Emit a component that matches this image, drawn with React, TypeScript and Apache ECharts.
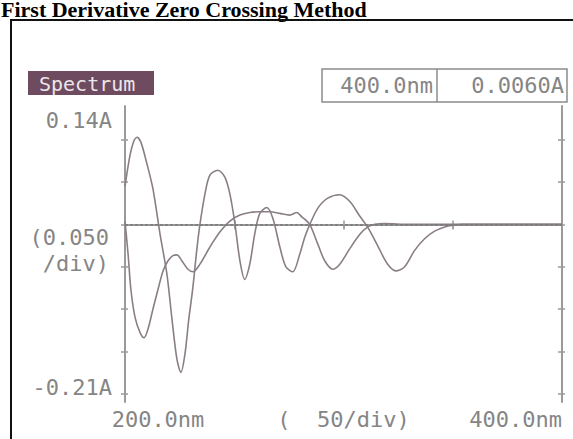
import React, { useEffect, useRef } from "react";
import * as echarts from "echarts";

// ---- data ----
const TITLE = "First Derivative Zero Crossing Method";
const MODE_LABEL = "Spectrum";
const READOUT = ["400.0nm", "0.0060A"];

const X_MIN = 200;
const X_MAX = 400;
const X_TICKS = [250, 300, 350];
const X_LABEL_VALUES = [200, 300, 400];
const X_LABELS = ["200.0nm", "(  50/div)", "400.0nm"];

const Y_MIN = -0.21;
const Y_MAX = 0.14;
const Y_TICKS = [-0.2, -0.15, -0.1, -0.05, 0, 0.05, 0.1];
const Y_END_VALUES = [-0.21, 0.14];
const Y_END_LABELS = ["-0.21A", "0.14A"];
const Y_MID_VALUES = [0];
const Y_MID_LABEL = "(0.050\n/div)";

// curve A: derivative with large oscillations
const nmA = [
  200.0, 202.3, 204.1, 205.5, 207.3, 210.0, 212.8, 216.0, 219.2, 221.5, 223.8,
  225.6, 227.4, 229.2, 231.0, 232.9, 234.3, 236.6, 238.8, 242.5, 245.7, 248.0,
  250.3, 252.6, 254.8, 257.1, 259.4, 261.7, 264.9, 267.7, 270.9, 273.6, 276.8,
  280.0, 282.3, 284.6, 288.2, 292.8, 298.3, 302.9, 307.4, 311.0, 315.6, 320.2,
  324.3, 328.0, 332.5, 337.1, 341.7, 346.3, 350.0, 355.0, 370.0, 400.0,
];
const absA = [
  0.045, 0.082, 0.099, 0.103, 0.097, 0.072, 0.042, -0.011, -0.059, -0.112,
  -0.16, -0.175, -0.154, -0.112, -0.076, -0.029, 0.0, 0.036, 0.058, 0.064,
  0.056, 0.036, 0.001, -0.043, -0.065, -0.047, -0.011, 0.013, 0.02, 0.007,
  -0.027, -0.05, -0.056, -0.035, -0.015, 0.0, 0.019, 0.031, 0.035, 0.027, 0.01,
  -0.003, -0.025, -0.047, -0.055, -0.05, -0.031, -0.017, -0.008, -0.003,
  -0.001, 0.0, 0.0, 0.0,
];

// curve B: derivative with plateau
const nmB = [
  200.0, 201.4, 202.7, 204.6, 206.9, 208.7, 210.5, 212.8, 215.1, 217.4, 219.7,
  221.9, 223.8, 226.0, 228.8, 231.1, 234.3, 238.8, 243.4, 248.0, 252.6, 257.1,
  261.7, 266.3, 270.8, 275.4, 278.6, 280.9, 284.5, 288.2, 291.4, 295.1, 298.3,
  302.8, 307.4, 311.1, 314.3, 318.8, 330.0, 350.0, 400.0,
];
const absB = [
  0.004, -0.035, -0.077, -0.11, -0.128, -0.134, -0.124, -0.1, -0.077, -0.055,
  -0.043, -0.037, -0.036, -0.043, -0.053, -0.056, -0.047, -0.027, -0.009,
  0.004, 0.011, 0.014, 0.015, 0.015, 0.013, 0.011, 0.014, 0.009, 0.0, -0.023,
  -0.043, -0.053, -0.047, -0.029, -0.012, -0.003, 0.0, 0.001, 0.0, 0.0, 0.0,
];

const MONO = "'DejaVu Sans Mono', 'Liberation Mono', monospace";
const AXIS_GREY = "#9a9a9a";
const TEXT_GREY = "#858585";
const CURVE = "#8a7e86";

const near = (a: number, b: number) => Math.abs(a - b) < 1e-6;

export default function App() {
  const ref = useRef<HTMLDivElement>(null);

  useEffect(() => {
    if (!ref.current) return;
    const chart = echarts.init(ref.current, null, { renderer: "svg" });

    const tickStyle = { color: AXIS_GREY, width: 1.5 };
    const labelFont = { fontFamily: MONO, fontSize: 22, color: TEXT_GREY };

    const xBase = {
      type: "value" as const,
      min: X_MIN,
      max: X_MAX,
      splitLine: { show: false },
    };
    const yBase = {
      type: "value" as const,
      min: Y_MIN,
      max: Y_MAX,
      splitLine: { show: false },
    };

    const xAxes = [
      {
        ...xBase,
        position: "bottom",
        axisLine: { show: true, lineStyle: { color: AXIS_GREY, width: 2 } },
        axisTick: {
          show: true,
          inside: false,
          length: 4,
          customValues: X_TICKS,
          lineStyle: tickStyle,
        },
        axisLabel: {
          show: true,
          customValues: X_LABEL_VALUES,
          alignMaxLabel: "right",
          margin: 6,
          ...labelFont,
          formatter: (v: number) => {
            const i = X_LABEL_VALUES.findIndex((x) => near(x, v));
            if (i < 0) return "";
            if (i === 0) return `{l|${X_LABELS[i]}}`;
            return `{n|${X_LABELS[i]}}`;
          },
          rich: {
            l: { ...labelFont, padding: [0, 0, 0, 66] },
            n: { ...labelFont },
          },
        },
      },
      {
        ...xBase,
        position: "bottom",
        axisLine: { show: false },
        axisTick: {
          show: true,
          inside: true,
          length: 4,
          customValues: X_TICKS,
          lineStyle: tickStyle,
        },
        axisLabel: { show: false },
      },
      {
        ...xBase,
        position: "top",
        axisLine: { show: true, lineStyle: { color: AXIS_GREY, width: 2 } },
        axisTick: {
          show: true,
          inside: true,
          length: 5,
          customValues: X_TICKS,
          lineStyle: tickStyle,
        },
        axisLabel: { show: false },
      },
    ];

    const yAxes = [
      {
        ...yBase,
        position: "left",
        axisLine: { show: true, lineStyle: { color: AXIS_GREY, width: 2 } },
        axisTick: {
          show: true,
          inside: false,
          length: 4,
          customValues: Y_TICKS,
          lineStyle: tickStyle,
        },
        axisLabel: {
          show: true,
          customValues: Y_END_VALUES,
          margin: 13,
          ...labelFont,
          formatter: (v: number) => {
            const i = Y_END_VALUES.findIndex((x) => near(x, v));
            if (i < 0) return "";
            return i === 0 ? `{b|${Y_END_LABELS[i]}}` : `{t|${Y_END_LABELS[i]}}`;
          },
          rich: {
            t: { ...labelFont, lineHeight: 24, padding: [28, 0, 0, 0] },
            b: { ...labelFont, lineHeight: 24, padding: [0, 0, 30, 0] },
          },
        },
      },
      {
        ...yBase,
        position: "left",
        axisLine: { show: false },
        axisTick: {
          show: true,
          inside: true,
          length: 3,
          customValues: Y_TICKS,
          lineStyle: tickStyle,
        },
        axisLabel: {
          show: true,
          customValues: Y_MID_VALUES,
          margin: 16,
          ...labelFont,
          lineHeight: 26,
          align: "right",
          verticalAlign: "top",
          formatter: () => Y_MID_LABEL,
        },
      },
      {
        ...yBase,
        position: "right",
        axisLine: { show: true, lineStyle: { color: AXIS_GREY, width: 2 } },
        axisTick: {
          show: true,
          inside: false,
          length: 3,
          customValues: Y_TICKS,
          lineStyle: tickStyle,
        },
        axisLabel: { show: false },
      },
      {
        ...yBase,
        position: "right",
        axisLine: { show: false },
        axisTick: {
          show: true,
          inside: true,
          length: 4,
          customValues: Y_TICKS,
          lineStyle: tickStyle,
        },
        axisLabel: { show: false },
      },
    ];

    const seriesData = (xs: number[], ys: number[]) =>
      xs.map((x, i) => [x, ys[i]]);

    chart.setOption({
      animation: false,
      backgroundColor: "#ffffff",
      grid: { left: 125, right: 11, top: 106, bottom: 37, containLabel: false },
      xAxis: xAxes,
      yAxis: yAxes,
      graphic: [
        {
          type: "text",
          left: 1,
          top: -2,
          style: {
            text: TITLE,
            fontFamily: "'Liberation Serif', 'Times New Roman', serif",
            fontWeight: "bold",
            fontSize: 22,
            fill: "#000",
          },
        },
        {
          type: "rect",
          shape: { x: 11, y: 20, width: 700, height: 600 },
          style: { fill: "none", stroke: "#111", lineWidth: 2 },
        },
        {
          type: "rect",
          shape: { x: 28, y: 71, width: 126, height: 24 },
          style: { fill: "#6e4b5f" },
        },
        {
          type: "text",
          x: 39,
          y: 84,
          style: {
            text: MODE_LABEL,
            fontFamily: MONO,
            fontSize: 20,
            fill: "#ece6ea",
            verticalAlign: "middle",
          },
        },
        {
          type: "rect",
          shape: { x: 322, y: 69, width: 245, height: 33 },
          style: { fill: "#fff", stroke: "#8c8c8c", lineWidth: 1.5 },
        },
        {
          type: "line",
          shape: { x1: 437, y1: 69, x2: 437, y2: 102 },
          style: { stroke: "#8c8c8c", lineWidth: 1.5 },
        },
        {
          type: "text",
          x: 433,
          y: 85,
          style: {
            text: READOUT[0],
            fontFamily: MONO,
            fontSize: 22,
            fill: TEXT_GREY,
            align: "right",
            verticalAlign: "middle",
          },
        },
        {
          type: "text",
          x: 564,
          y: 85,
          style: {
            text: READOUT[1],
            fontFamily: MONO,
            fontSize: 22,
            fill: TEXT_GREY,
            align: "right",
            verticalAlign: "middle",
          },
        },
      ],
      series: [
        {
          name: "A",
          type: "line",
          xAxisIndex: 0,
          yAxisIndex: 0,
          data: seriesData(nmA, absA),
          smooth: 0.3,
          showSymbol: false,
          lineStyle: { color: CURVE, width: 1.6 },
          markLine: {
            silent: true,
            symbol: ["none", "none"],
            label: { show: false },
            lineStyle: { color: "#7a7a7a", width: 1.5, type: [3, 2] },
            data: [{ yAxis: 0 }],
          },
          z: 3,
        },
        {
          name: "B",
          type: "line",
          xAxisIndex: 0,
          yAxisIndex: 0,
          data: seriesData(nmB, absB),
          smooth: 0.3,
          showSymbol: false,
          lineStyle: { color: CURVE, width: 1.6 },
          z: 3,
        },
      ],
    });

    return () => chart.dispose();
  }, []);

  return (
    <div
      ref={ref}
      style={{ position: "fixed", left: 0, top: 0, width: 573, height: 439 }}
    />
  );
}
